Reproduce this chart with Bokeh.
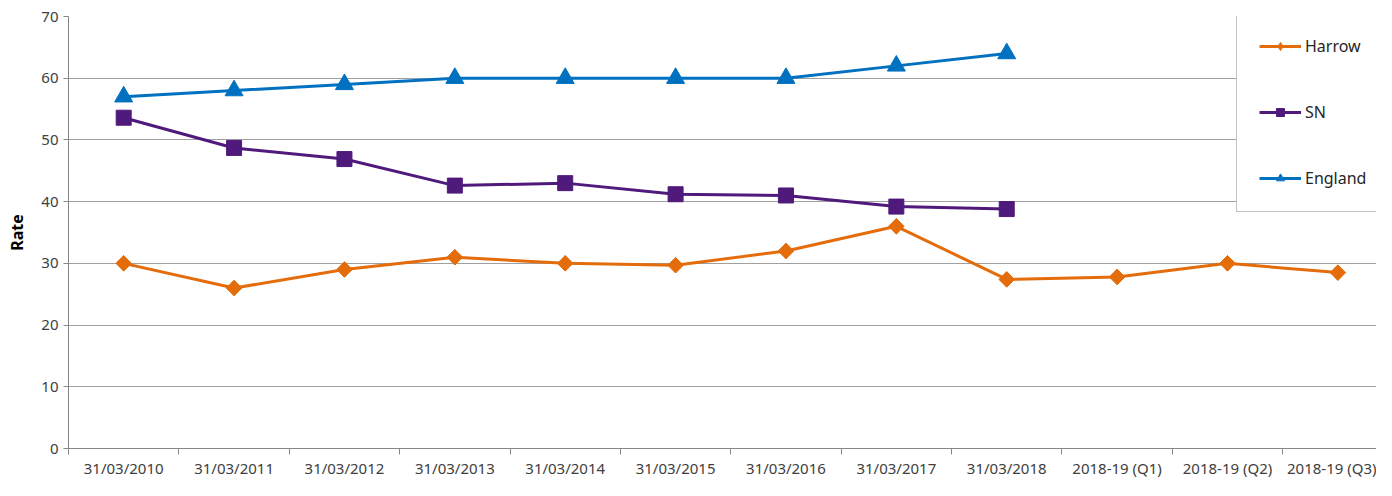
import math
from bokeh.plotting import figure
from bokeh.models import Range1d, FixedTicker, Legend, LegendItem
from bokeh.embed import file_html
from bokeh.resources import INLINE

categories = ["31/03/2010", "31/03/2011", "31/03/2012", "31/03/2013", "31/03/2014",
              "31/03/2015", "31/03/2016", "31/03/2017", "31/03/2018",
              "2018-19 (Q1)", "2018-19 (Q2)", "2018-19 (Q3)"]
harrow = [30.0, 26.0, 29.0, 31.0, 30.0, 29.7, 32.0, 36.0, 27.4, 27.8, 30.0, 28.5]
sn = [53.6, 48.7, 46.9, 42.6, 43.0, 41.2, 41.0, 39.2, 38.8]
england = [57, 58, 59, 60, 60, 60, 60, 62, 64]
y_ticks = [0, 10, 20, 30, 40, 50, 60, 70]

ORANGE = "#E46C0A"
PURPLE = "#4F1A7C"
BLUE = "#0070C0"
GRID = "#A0A0A0"
AXIS = "#868686"
FONT = "Noto Sans"

centers = [i + 0.5 for i in range(len(categories))]
bounds = list(range(len(categories) + 1))

p = figure(width=1376, height=480, x_range=Range1d(0, 11.85), y_range=Range1d(0, 70),
           output_backend="svg", toolbar_location=None,
           min_border_left=68, min_border_right=0, min_border_top=16, min_border_bottom=0)
p.outline_line_color = None
p.background_fill_color = "white"

# x axis
p.xaxis.ticker = FixedTicker(ticks=centers, minor_ticks=bounds)
p.xaxis.major_label_overrides = {c: lab for c, lab in zip(centers, categories)}
p.xaxis.major_tick_line_color = None
p.xaxis.major_tick_out = 0
p.xaxis.major_tick_in = 0
p.xaxis.minor_tick_line_color = AXIS
p.xaxis.minor_tick_out = 6
p.xaxis.minor_tick_in = 0
p.xaxis.axis_line_color = AXIS
p.xaxis.major_label_text_font = FONT
p.xaxis.major_label_text_font_size = "15px"
p.xaxis.major_label_text_color = "#404040"
p.xaxis.major_label_standoff = 3
p.xgrid.grid_line_color = None

# y axis
p.yaxis.ticker = FixedTicker(ticks=y_ticks, minor_ticks=[])
p.yaxis.axis_line_color = AXIS
p.yaxis.major_tick_line_color = AXIS
p.yaxis.major_tick_out = 5
p.yaxis.major_tick_in = 0
p.yaxis.minor_tick_line_color = None
p.yaxis.major_label_text_font = FONT
p.yaxis.major_label_text_font_size = "15px"
p.yaxis.major_label_text_color = "#404040"
p.yaxis.major_label_standoff = 5
p.yaxis.axis_label = "Rate"
p.yaxis.axis_label_text_font = FONT
p.yaxis.axis_label_text_font_size = "16px"
p.yaxis.axis_label_text_font_style = "bold"
p.yaxis.axis_label_text_color = "black"
p.yaxis.axis_label_standoff = 10
p.ygrid.ticker = FixedTicker(ticks=y_ticks[1:])
p.ygrid.grid_line_color = GRID
p.ygrid.grid_line_width = 1

lw = 3
hx = centers[:len(harrow)]
h_line = p.line(hx, harrow, line_color=ORANGE, line_width=lw)
h_leg = p.scatter(hx, harrow, marker="diamond", size=15,
                  fill_color=ORANGE, line_color=ORANGE)
p.scatter(hx, harrow, marker="square", angle=math.pi / 4,
          size=11, fill_color=ORANGE, line_color=ORANGE)
s_line = p.line(centers[:len(sn)], sn, line_color=PURPLE, line_width=lw)
s_mark = p.scatter(centers[:len(sn)], sn, marker="square", size=15,
                   fill_color=PURPLE, line_color=PURPLE)
e_line = p.line(centers[:len(england)], england, line_color=BLUE, line_width=lw)
e_mark = p.scatter(centers[:len(england)], england, marker="triangle", size=18,
                   fill_color=BLUE, line_color=BLUE)

legend = Legend(items=[
    LegendItem(label="Harrow", renderers=[h_line, h_leg]),
    LegendItem(label="SN", renderers=[s_line, s_mark]),
    LegendItem(label="England", renderers=[e_line, e_mark]),
], location=(1168, 236))
legend.padding = 22
legend.spacing = 44
legend.glyph_width = 42
legend.glyph_height = 20
legend.label_height = 20
legend.label_width = 110
legend.label_standoff = 4
legend.label_text_font = FONT
legend.label_text_font_size = "16px"
legend.label_text_color = "#262626"
legend.border_line_color = AXIS
legend.border_line_width = 1
legend.background_fill_color = "white"
legend.background_fill_alpha = 1
legend.margin = 0
p.add_layout(legend)

open("out.html", "w").write(file_html(p, INLINE))
